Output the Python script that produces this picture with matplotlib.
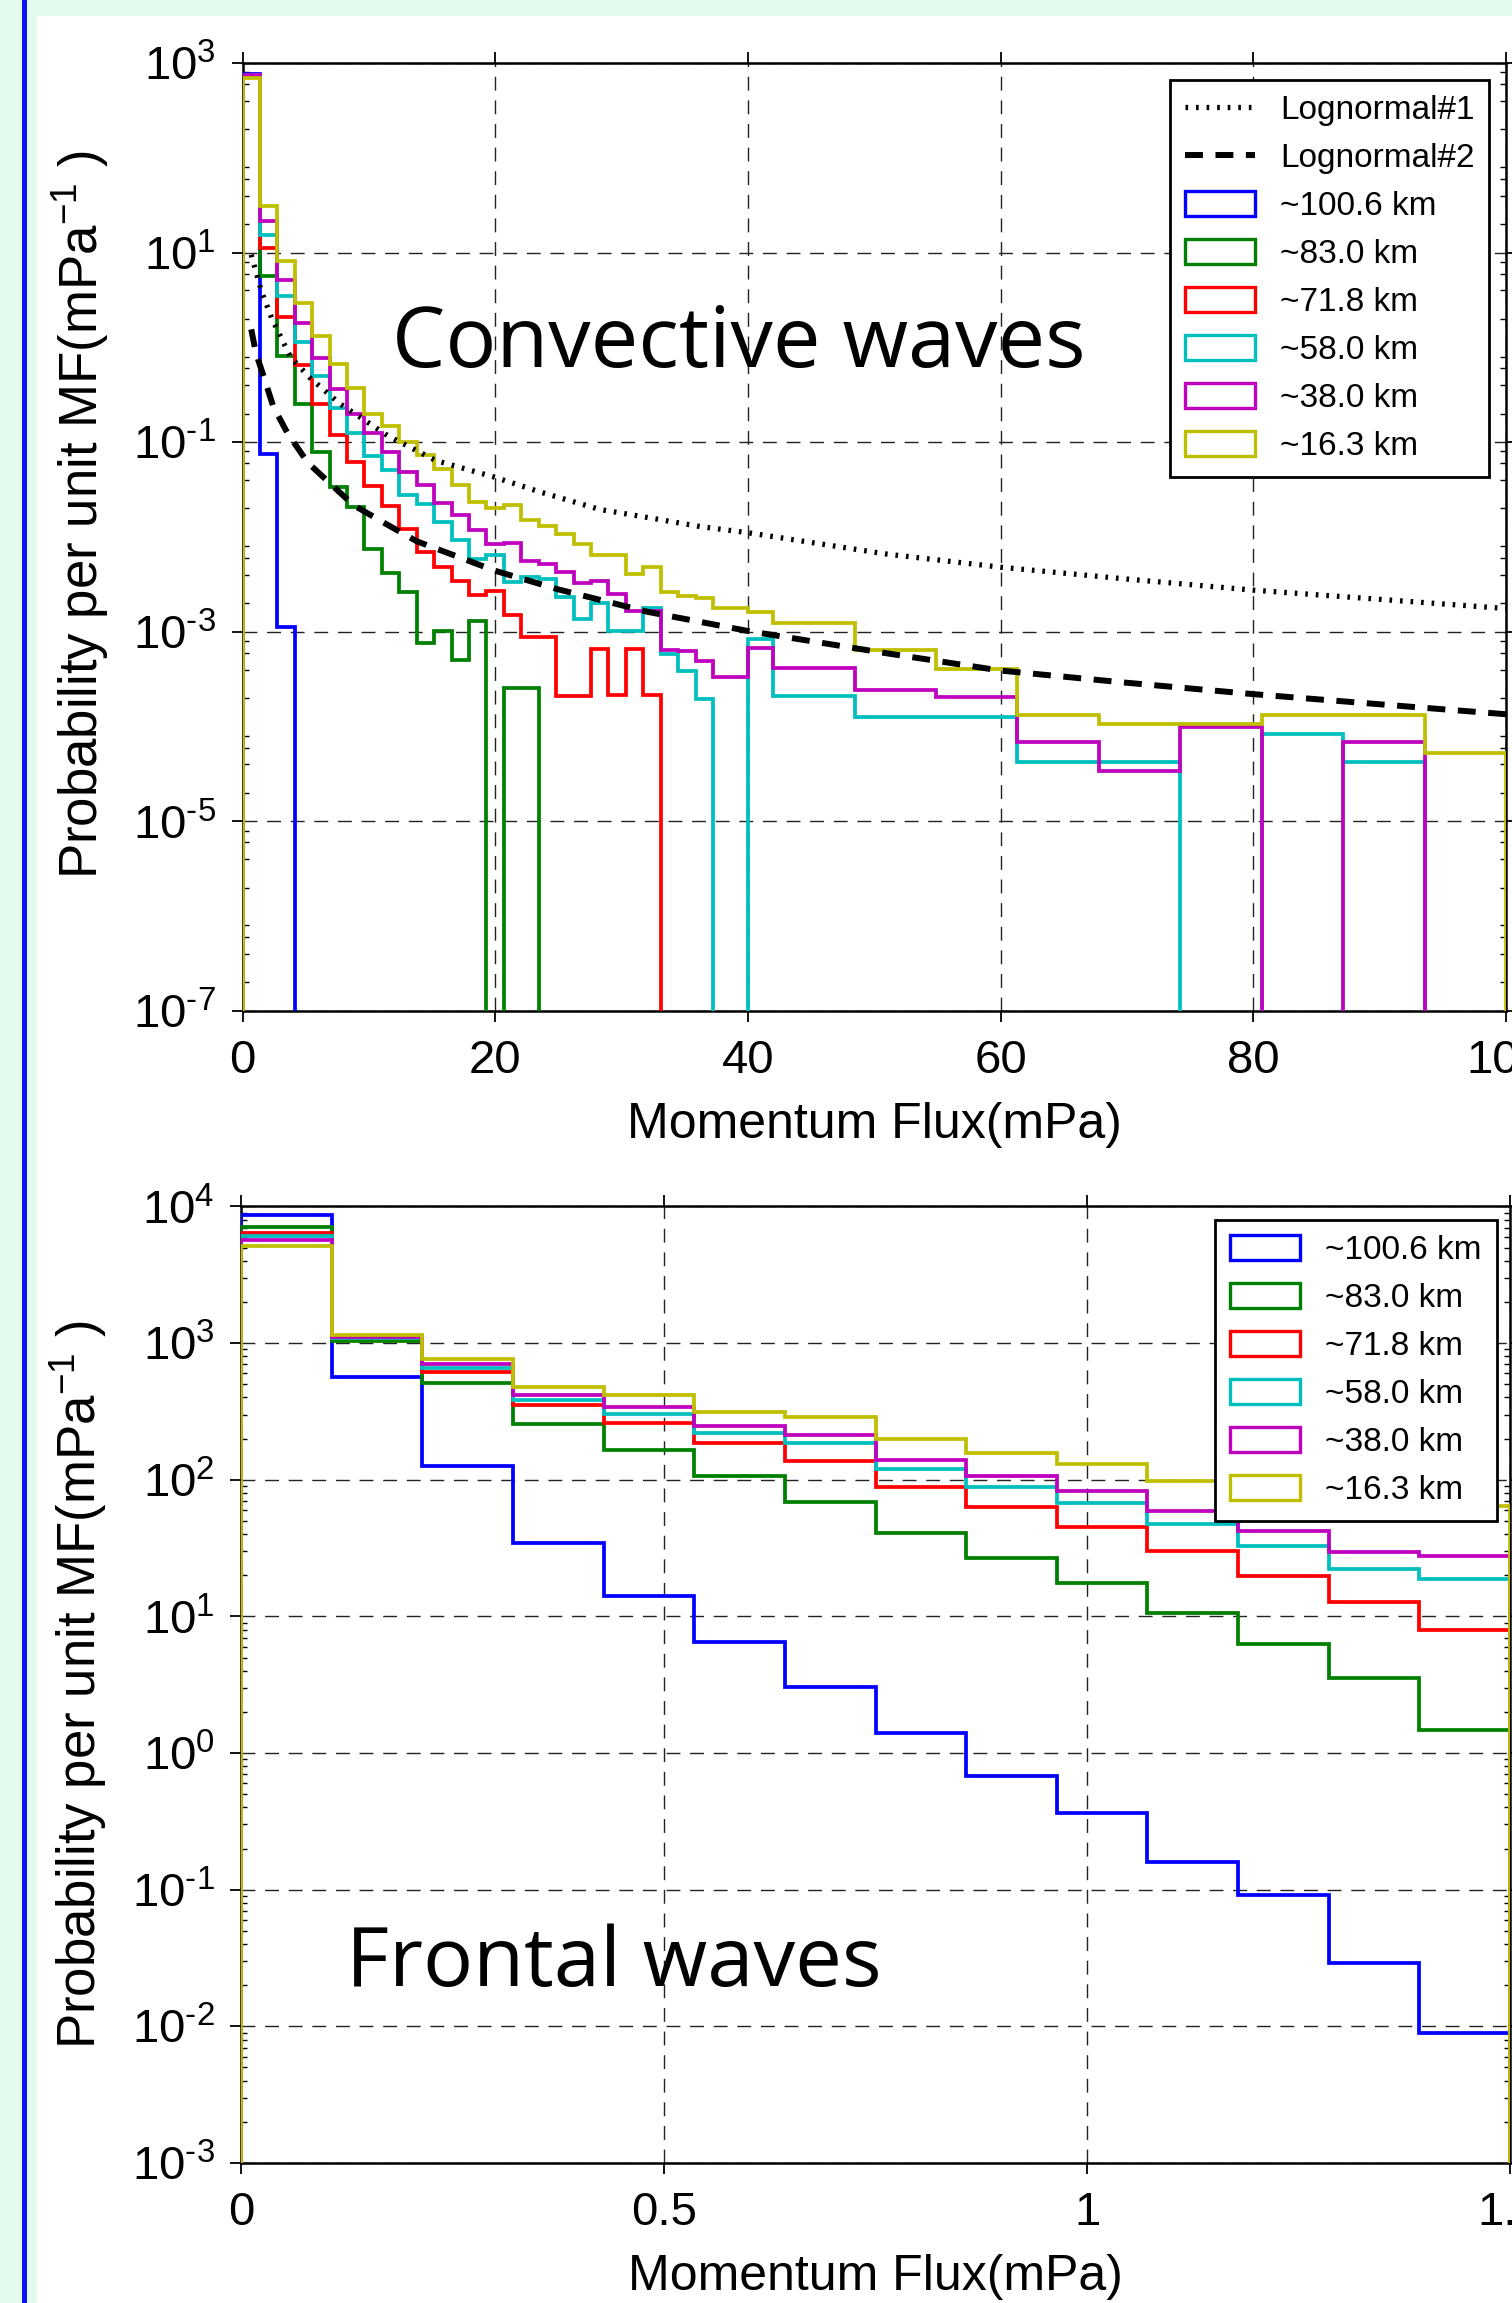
import numpy as np
import matplotlib
matplotlib.use('Agg')
import matplotlib.pyplot as plt
from matplotlib.patches import Rectangle, Patch
from matplotlib.lines import Line2D
from matplotlib.ticker import FixedLocator, FixedFormatter, NullFormatter

plt.rcParams['font.family'] = ['Liberation Sans', 'DejaVu Sans']
plt.rcParams['mathtext.fontset'] = 'custom'
plt.rcParams['mathtext.rm'] = 'Liberation Sans'
plt.rcParams['mathtext.it'] = 'Liberation Sans:italic'
plt.rcParams['mathtext.bf'] = 'Liberation Sans:bold'

# ---------------- data ----------------
series_labels = ['~100.6 km', '~83.0 km', '~71.8 km', '~58.0 km', '~38.0 km', '~16.3 km']
series_colors = ['b', 'g', 'r', 'c', 'm', 'y']

# Convective waves: bin edges (mPa)
conv_edges = [0.0, 1.379, 2.759, 4.138, 5.517, 6.897, 8.276, 9.655, 11.034, 12.414,
              13.793, 15.172, 16.552, 17.931, 19.310, 20.690, 22.069, 23.448, 24.828,
              26.207, 27.586, 28.966, 30.345, 31.724, 33.103, 34.483, 35.862, 37.241,
              38.621, 40.0, 42.0, 48.444, 54.889, 61.333, 67.778, 74.222, 80.667,
              87.111, 93.556, 100.0]

conv_blue = [760, 0.075, 1.13e-3, 0, 0, 0, 0, 0, 0, 0,
             0, 0, 0, 0, 0, 0, 0, 0, 0, 0,
             0, 0, 0, 0, 0, 0, 0, 0, 0, 0,
             0, 0, 0, 0, 0, 0, 0, 0, 0]
conv_green = [755, 5.7, 0.82, 0.25, 0.079, 0.034, 0.0205, 7.5e-3, 4.13e-3, 2.61e-3,
              7.6e-4, 1.02e-3, 5.1e-4, 1.29e-3, 0, 2.57e-4, 2.57e-4, 0, 0, 0,
              0, 0, 0, 0, 0, 0, 0, 0, 0, 0,
              0, 0, 0, 0, 0, 0, 0, 0, 0]
conv_red = [750, 11.3, 2.1, 0.66, 0.254, 0.12, 0.062, 0.0345, 0.021, 0.0122,
            6.9e-3, 4.8e-3, 3.4e-3, 2.45e-3, 2.7e-3, 1.5e-3, 8.8e-4, 8.8e-4, 2.12e-4, 2.12e-4,
            6.6e-4, 2.15e-4, 6.6e-4, 2.15e-4, 0, 0, 0, 0, 0, 0,
            0, 0, 0, 0, 0, 0, 0, 0, 0]
conv_cyan = [745, 15.5, 3.45, 1.15, 0.50, 0.228, 0.125, 0.071, 0.051, 0.028,
             0.0225, 0.0145, 9.4e-3, 5.8e-3, 6.5e-3, 3.37e-3, 3.75e-3, 3.6e-3, 2.33e-3, 1.38e-3,
             2.03e-3, 1.02e-3, 1.02e-3, 1.78e-3, 5.9e-4, 3.9e-4, 1.96e-4, 0, 0, 8.3e-4,
             2.12e-4, 1.26e-4, 1.26e-4, 4.2e-5, 4.2e-5, 0, 8.3e-5, 4.2e-5, 0]
conv_magenta = [740, 21.5, 5.1, 1.8, 0.77, 0.365, 0.2, 0.125, 0.078, 0.048,
                0.035, 0.023, 0.0171, 0.0118, 8.4e-3, 8.6e-3, 5.6e-3, 5.2e-3, 4.3e-3, 3.3e-3,
                3.45e-3, 2.5e-3, 1.65e-3, 1.65e-3, 6.4e-4, 6.2e-4, 4.9e-4, 3.3e-4, 3.3e-4, 6.7e-4,
                4.15e-4, 2.43e-4, 2.05e-4, 6.9e-5, 3.4e-5, 1.0e-4, 0, 6.9e-5, 0]
conv_yellow = [690, 31, 8.1, 2.95, 1.33, 0.675, 0.377, 0.2, 0.15, 0.101,
               0.074, 0.052, 0.0355, 0.0236, 0.0200, 0.0217, 0.0152, 0.0132, 0.0107, 0.0084,
               0.0065, 0.0064, 0.0041, 0.0048, 0.00266, 0.0024, 0.0023, 0.00177, 0.00177, 0.0016,
               1.23e-3, 6.46e-4, 4.01e-4, 1.34e-4, 1.07e-4, 1.07e-4, 1.34e-4, 1.34e-4, 5.3e-5]

# Lognormal fits
logn1_x = [0.69, 1.5, 2.3, 3.8, 5.4, 7.7, 11.5, 15.3, 19.9, 23.5, 28.3, 32.5, 36.2,
           40, 51, 60, 70, 80, 90, 100]
logn1_y = [9.5, 3.9, 2.05, 0.79, 0.47, 0.255, 0.117, 0.064, 0.043, 0.030, 0.0195, 0.0157,
           0.0129, 0.0111, 0.0066, 0.0048, 0.0036, 0.00275, 0.0022, 0.00176]
logn2_x = [0.69, 1.07, 1.6, 2.44, 3.57, 5.16, 7.0, 8.8, 11.5, 13.8, 20, 25, 32.1, 40,
           51.1, 60, 70, 80, 90, 100]
logn2_y = [1.55, 0.866, 0.53, 0.237, 0.124, 0.061, 0.036, 0.0216, 0.0134, 0.009, 0.0044,
           0.0028, 0.00162, 0.00102, 0.00059, 0.00039, 0.00029, 0.00022, 0.000172, 0.000135]

# Frontal waves: bin edges (mPa)
front_edges = [0.0, 0.1071, 0.2143, 0.3214, 0.4286, 0.5357, 0.6429, 0.75, 0.8571,
               0.9643, 1.0714, 1.1786, 1.2857, 1.3929, 1.5]
front_blue = [8600, 564, 127, 34.2, 14.0, 6.5, 3.05, 1.4, 0.68, 0.366, 0.159, 0.092, 0.029, 0.009]
front_green = [7010, 1040, 509, 255, 164, 106, 68.8, 41.0, 26.9, 17.4, 10.5, 6.3, 3.55, 1.47]
front_red = [6400, 1080, 618, 351, 262, 187, 138, 88.6, 63.3, 45.4, 30.2, 19.9, 12.7, 7.9]
front_cyan = [6030, 1090, 656, 381, 303, 219, 187, 119, 88.1, 67.2, 47.4, 32.7, 22.3, 18.8]
front_magenta = [5670, 1100, 705, 415, 338, 247, 214, 140, 106, 83, 58.9, 42, 29.8, 27.5]
front_yellow = [5090, 1150, 762, 473, 415, 311, 289, 199, 156, 130, 98, 85, 75, 64.4]

conv_xticks = [0, 20, 40, 60, 80, 100]
conv_yexps = [3, 1, -1, -3, -5, -7]
front_xticks = [0, 0.5, 1, 1.5]
front_xticklabels = ['0', '0.5', '1', '1.5']
front_yexps = [4, 3, 2, 1, 0, -1, -2, -3]

# ---------------- figure ----------------
W, H = 1512, 2303
fig = plt.figure(figsize=(W / 100, H / 100), dpi=100)
mint = '#e3fbef'
fig.patch.set_facecolor(mint)
fig.patches.append(Rectangle((37 / W, 0), 1 - 37 / W, 1 - 16 / H, transform=fig.transFigure,
                             facecolor='white', edgecolor='none', zorder=-20))
fig.patches.append(Rectangle((21.5 / W, 0), 5 / W, 1, transform=fig.transFigure,
                             facecolor='#0a14ff', edgecolor='none', zorder=-19))

FLOOR = 1e-12
TICK_FS = 34
LEG_FS = 24
HIST_LW = 2.7
DOT_STYLE = dict(color='black', linewidth=3.8, linestyle=(0, (0.5, 1.5)))
DASH_STYLE = dict(color='black', linewidth=4.3, linestyle=(0, (3.0, 2.1)))


def exp_label(e):
    s = str(e).replace('-', r'\text{-}')
    return r'$10^{%s}$' % s


def style_axes(ax, xlim, ylim, xticks, xticklabels, yexps, minor_vals):
    ax.set_yscale('log')
    ax.set_xlim(*xlim)
    ax.set_ylim(*ylim)
    ax.xaxis.set_major_locator(FixedLocator(xticks))
    ax.xaxis.set_major_formatter(FixedFormatter(xticklabels))
    yt = [10.0 ** e for e in yexps]
    ax.yaxis.set_major_locator(FixedLocator(yt))
    ax.yaxis.set_major_formatter(FixedFormatter([exp_label(e) for e in yexps]))
    ax.yaxis.set_minor_locator(FixedLocator(minor_vals))
    ax.yaxis.set_minor_formatter(NullFormatter())
    ax.tick_params(axis='both', which='major', direction='out', length=8, width=1.3,
                   labelsize=TICK_FS, top=True, right=True)
    ax.tick_params(axis='x', which='major', pad=12)
    ax.tick_params(axis='y', which='major', pad=11)
    ax.tick_params(axis='y', which='minor', direction='in', length=4, width=1.0,
                   left=True, right=True)
    ax.grid(True, which='major', linestyle=(0, (10, 7)), color='#222222', linewidth=1.0)
    for s in ax.spines.values():
        s.set_linewidth(1.8)
    ax.set_xlabel('Momentum Flux(mPa)', fontsize=36, labelpad=14)
    ax.set_ylabel('Probability per unit MF(mPa$^{-1}$ )', fontsize=38)


def minor_list(lo, hi, subs):
    out = []
    for e in range(lo, hi):
        for s in subs:
            out.append(s * 10.0 ** e)
    return out


LEG_KW = dict(loc='upper right', fontsize=LEG_FS, frameon=True, fancybox=False,
              edgecolor='black', framealpha=1, handlelength=2.1, handleheight=0.8,
              labelspacing=0.5, handletextpad=0.75, borderpad=0.45)

# ---- top: convective ----
ax1 = fig.add_axes([242.5 / W, 1 - 1011 / H, (1506 - 242.5) / W, (1011 - 63) / H])
conv_series = [conv_blue, conv_green, conv_red, conv_cyan, conv_magenta, conv_yellow]
for vals, col in zip(conv_series, series_colors):
    v = np.array(vals, dtype=float)
    v[v <= 0] = FLOOR
    ax1.stairs(v, conv_edges, baseline=FLOOR, color=col, linewidth=HIST_LW, zorder=3)
ax1.plot(logn1_x, logn1_y, zorder=4, **DOT_STYLE)
ax1.plot(logn2_x, logn2_y, zorder=4, **DASH_STYLE)
style_axes(ax1, (0, 100), (1e-7, 1e3), conv_xticks, [str(t) for t in conv_xticks],
           conv_yexps, minor_list(-7, 3, [2, 4, 6, 8]))
handles = [Line2D([], [], **DOT_STYLE), Line2D([], [], **DASH_STYLE)]
handles += [Patch(facecolor='white', edgecolor=c, linewidth=2.4) for c in series_colors]
leg1 = ax1.legend(handles, ['Lognormal#1', 'Lognormal#2'] + series_labels,
                  borderaxespad=0.5, **LEG_KW)
leg1.get_frame().set_linewidth(2.0)
ax1.text(0.393, 0.703, 'Convective waves', transform=ax1.transAxes, ha='center', va='center',
         fontsize=61, family=['Open Sans', 'DejaVu Sans'], zorder=5)
ax1.yaxis.set_label_coords(-0.104, 0.524)

# ---- bottom: frontal ----
ax2 = fig.add_axes([241 / W, 1 - 2163 / H, (1510 - 241) / W, (2163 - 1206.4) / H])
front_series = [front_blue, front_green, front_red, front_cyan, front_magenta, front_yellow]
for vals, col in zip(front_series, series_colors):
    v = np.array(vals, dtype=float)
    v[v <= 0] = FLOOR
    ax2.stairs(v, front_edges, baseline=FLOOR, color=col, linewidth=HIST_LW, zorder=3)
style_axes(ax2, (0, 1.5), (1e-3, 1e4), front_xticks, front_xticklabels,
           front_yexps, minor_list(-3, 4, [2, 3, 4, 5, 6, 7, 8, 9]))
handles2 = [Patch(facecolor='white', edgecolor=c, linewidth=2.4) for c in series_colors]
leg2 = ax2.legend(handles2, series_labels, borderaxespad=0.4, **LEG_KW)
leg2.get_frame().set_linewidth(2.0)
ax2.text(0.294, 0.207, 'Frontal waves', transform=ax2.transAxes, ha='center', va='center',
         fontsize=60, family=['Open Sans', 'DejaVu Sans'], zorder=5)
ax2.yaxis.set_label_coords(-0.104, 0.5)

fig.savefig('out.png', dpi=100, facecolor=fig.get_facecolor())
